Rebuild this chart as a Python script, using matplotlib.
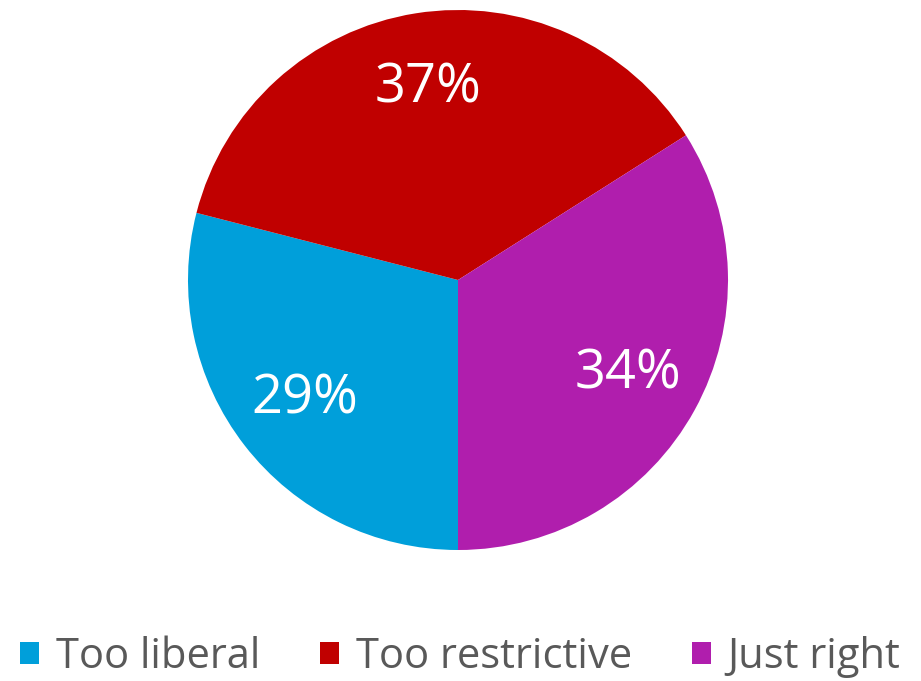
import matplotlib
matplotlib.use("Agg")
import matplotlib.pyplot as plt

categories = ["Too liberal", "Too restrictive", "Just right"]
shares = [29, 37, 34]
colors = ["#009FDA", "#C00000", "#B01EAD"]

plt.rcParams['font.family'] = ['Open Sans', 'DejaVu Sans']

fig = plt.figure(figsize=(9.21, 6.81), dpi=100)
ax = fig.add_axes([0.0, 0.0, 1.0, 1.0])

wedges, texts, autotexts = ax.pie(
    shares, colors=colors, startangle=270, counterclock=False,
    autopct=lambda p: "%d%%" % round(p), pctdistance=0.72,
    radius=1.0, center=(0, 0), wedgeprops=dict(linewidth=0),
    textprops=dict(color="white", fontsize=39))

# place the pie: centre at (458, 280) px, radius 270 px
W, H = 921, 681
r = 270
ax.set_xlim(-458 / r, (W - 458) / r)
ax.set_ylim(-(H - 280) / r, 280 / r)
ax.set_aspect("equal")
ax.axis("off")

leg = fig.legend(wedges, categories, loc="lower center", ncol=3,
                 bbox_to_anchor=(0.5, -0.05), frameon=False,
                 fontsize=30, handlelength=0.45, handleheight=0.45,
                 handletextpad=0.4, columnspacing=1.45)
for t in leg.get_texts():
    t.set_color("#595959")

fig.savefig("out.png", dpi=100)
